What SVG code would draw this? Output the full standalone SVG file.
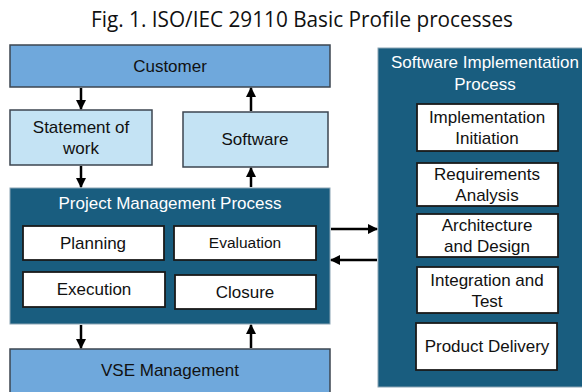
<svg xmlns="http://www.w3.org/2000/svg" width="582" height="392" viewBox="0 0 582 392">
<defs>
<marker id="ah" viewBox="0 0 10 10" refX="9" refY="5" markerWidth="4" markerHeight="4" orient="auto" markerUnits="strokeWidth">
<path d="M0,0 L10,5 L0,10 z" fill="#000"/>
</marker>
<style>
text{font-family:"Liberation Sans",Arial,sans-serif;text-anchor:middle;}
.lbl{font-size:17px;fill:#111;}
.wt{font-size:17px;fill:#fff;}
.mid{fill:#6fa8dc;stroke:#3d4650;stroke-width:1.5;}
.lt{fill:#c4e3f4;stroke:#3d4650;stroke-width:1.5;}
.dk{fill:#195d7f;stroke:#8aa4b4;stroke-width:1;}
.wb{fill:#fff;stroke:#1a1a1a;stroke-width:1.8;}
.conn{stroke:#000;stroke-width:2.5;fill:none;marker-end:url(#ah);}
</style>
</defs>
<rect width="582" height="392" fill="#fff"/>
<text x="302" y="27" style="font-family:'Open Sans','Noto Sans',sans-serif;font-size:21px;fill:#111" textLength="422" lengthAdjust="spacingAndGlyphs">Fig. 1. ISO/IEC 29110 Basic Profile processes</text>

<g id="customer"><rect class="mid" x="10" y="45" width="320" height="42"/><text class="lbl" x="170" y="72">Customer</text></g>
<g id="statement"><rect class="lt" x="10" y="110" width="142" height="55"/><text class="lbl" x="81" y="133">Statement of</text><text class="lbl" x="81" y="154">work</text></g>
<g id="software"><rect class="lt" x="183" y="112" width="145" height="55"/><text class="lbl" x="255" y="145">Software</text></g>

<g id="pm"><rect class="dk" x="10" y="188" width="320" height="136"/><text class="wt" x="170" y="209">Project Management Process</text></g>
<g id="planning"><rect class="wb" x="23" y="226" width="141" height="34"/><text class="lbl" x="93" y="249">Planning</text></g>
<g id="evaluation"><rect class="wb" x="174" y="226" width="142" height="34"/><text class="lbl" x="245" y="248" style="font-size:15.5px">Evaluation</text></g>
<g id="execution"><rect class="wb" x="23" y="272" width="142" height="35"/><text class="lbl" x="94" y="295">Execution</text></g>
<g id="closure"><rect class="wb" x="175" y="275" width="141" height="34"/><text class="lbl" x="245" y="298">Closure</text></g>

<g id="vse"><rect class="mid" x="10" y="349" width="320" height="50"/><text class="lbl" x="170" y="376">VSE Management</text></g>

<g id="sip"><rect class="dk" x="378" y="48" width="210" height="339"/><text class="wt" x="485" y="68">Software Implementation</text><text class="wt" x="485" y="90">Process</text></g>
<g id="init"><rect class="wb" x="417" y="104" width="141" height="47"/><text class="lbl" x="487" y="123">Implementation</text><text class="lbl" x="487" y="144">Initiation</text></g>
<g id="req"><rect class="wb" x="417" y="163" width="141" height="43"/><text class="lbl" x="487" y="180">Requirements</text><text class="lbl" x="487" y="201">Analysis</text></g>
<g id="arch"><rect class="wb" x="417" y="214" width="141" height="43"/><text class="lbl" x="487" y="231">Architecture</text><text class="lbl" x="487" y="252">and Design</text></g>
<g id="integ"><rect class="wb" x="417" y="267" width="141" height="46"/><text class="lbl" x="487" y="286">Integration and</text><text class="lbl" x="487" y="307">Test</text></g>
<g id="delivery"><rect class="wb" x="416" y="323" width="141" height="47"/><text class="lbl" x="487" y="352">Product Delivery</text></g>

<g id="connectors">
<line class="conn" x1="81" y1="88" x2="81" y2="109"/>
<line class="conn" x1="251" y1="111" x2="251" y2="88"/>
<line class="conn" x1="81" y1="166" x2="81" y2="187"/>
<line class="conn" x1="251" y1="187" x2="251" y2="168"/>
<line class="conn" x1="81" y1="325" x2="81" y2="348"/>
<line class="conn" x1="251" y1="348" x2="251" y2="325"/>
<line class="conn" x1="331" y1="229" x2="377" y2="229"/>
<line class="conn" x1="377" y1="260" x2="331" y2="260"/>
</g>
</svg>
